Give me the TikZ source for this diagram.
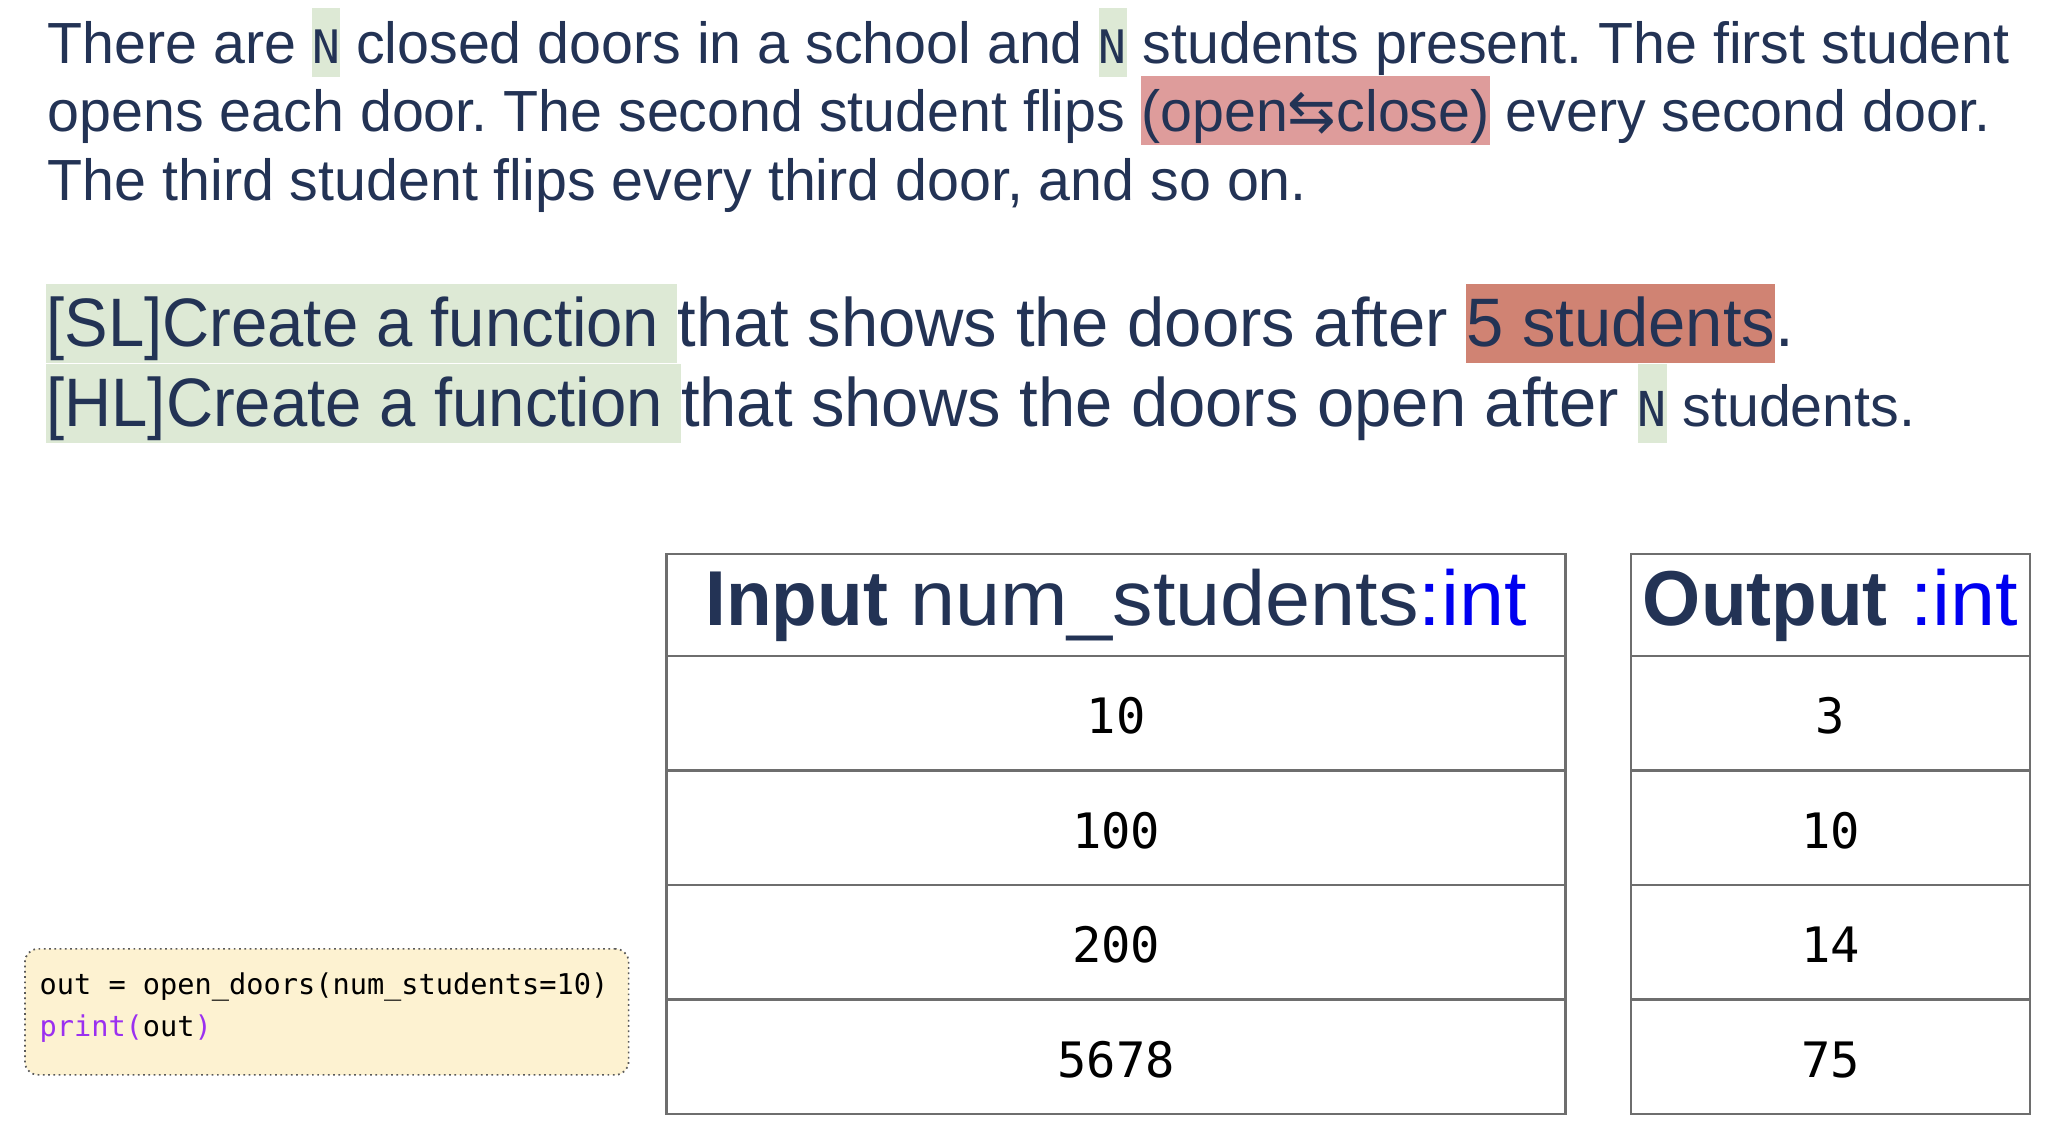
\documentclass[tikz,border=0pt]{standalone}
\usepackage{fontspec}
\setmainfont{Liberation Sans}
\setmonofont{DejaVu Sans Mono}
\newfontfamily\arrowfont{DejaVu Sans}
\newfontfamily\smallfam{Liberation Sans}[FakeStretch=0.988]
\newfontfamily\bigfam{Liberation Sans}[FakeStretch=0.976]
\newfontfamily\bigtagfam{Liberation Sans}[FakeStretch=0.951]
\newfontfamily\hdreg{Liberation Sans}[FakeStretch=1.04]
\newfontfamily\hdbold{Liberation Sans}[FakeStretch=0.96]
\definecolor{ink}{HTML}{233355}
\definecolor{hlgreen}{HTML}{DDE9D5}
\definecolor{hlpink}{HTML}{DE9C9B}
\definecolor{hlred}{HTML}{D08373}
\definecolor{codebg}{HTML}{FDF2D1}
\definecolor{codepurple}{HTML}{9B30F0}
\definecolor{typeblue}{HTML}{0000F0}
\definecolor{gridgray}{HTML}{6E6E6E}
\newcommand\hlA[2]{{\setlength\fboxsep{0pt}\colorbox{#1}{\rule[-10pt]{0pt}{52pt}#2}}}
\newcommand\hlB[2]{{\setlength\fboxsep{0pt}\colorbox{#1}{\rule[-12.5pt]{0pt}{60pt}#2}}}
\newcommand\monoN[1]{{\fontsize{#1}{#1}\ttfamily N}}
\tikzset{
  txt/.style={anchor=base west, inner sep=0pt, text=ink},
  small/.style={font=\fontsize{44}{52}\smallfam\frenchspacing},
  big/.style={font=\fontsize{52}{60}\bigfam\frenchspacing},
  cell/.style={draw=gridgray, line width=2pt, inner sep=0pt, text height=31pt, text depth=0pt, font=\fontsize{37}{37}\ttfamily},
  headcell/.style={draw=gridgray, line width=2pt, inner sep=0pt, text=ink, font=\fontsize{59}{59}\hdreg},
  codeline/.style={anchor=base west, inner sep=0pt, font=\fontsize{21.7}{21.7}\ttfamily}
}
\begin{document}
\begin{tikzpicture}[x=1pt,y=-1pt]
\useasboundingbox (0,0) rectangle (1560,862.6);
% paragraph 1
\node[txt, small] (p1) at (36,48) {There are \hlA{hlgreen}{\monoN{35}} closed doors in a school and \hlA{hlgreen}{\monoN{35}} students present. The first student};
\node[txt, small] (p2) at (36,99.8) {opens each door. The second student flips \hlA{hlpink}{(open{\arrowfont ⇆}close)} every second door.};
\node[txt, small] (p3) at (36,152.2) {The third student flips every third door, and so on.};
% task lines
\node[txt, big] (sl) at (35,262.8) {\hlB{hlgreen}{\bigtagfam [SL]Create a function }that shows the doors after \hlB{hlred}{5 students}.};
\node[txt, big] (hl) at (35,323.4) {\hlB{hlgreen}{\bigtagfam [HL]Create a function }that shows the doors open after \hlB{hlgreen}{\monoN{36.5}}{\fontsize{44}{52}\smallfam\ students.}};
% input table
\node[headcell, minimum width=681.4pt, minimum height=77.3pt] (ih) at (846,458.65) {{\hdbold\bfseries Input} num\_students{\color{typeblue}:int}};
\node[cell, minimum width=681.4pt, minimum height=86.8pt] (i1) at (846,540.7) {10};
\node[cell, minimum width=681.4pt, minimum height=86.8pt] (i2) at (846,627.5) {100};
\node[cell, minimum width=681.4pt, minimum height=86.8pt] (i3) at (846,714.3) {200};
\node[cell, minimum width=681.4pt, minimum height=86.8pt] (i4) at (846,801.1) {5678};
% output table
\node[headcell, minimum width=302.4pt, minimum height=77.3pt] (oh) at (1387.6,458.65) {{\hdbold\bfseries Output} {\color{typeblue}:int}};
\node[cell, minimum width=302.4pt, minimum height=86.8pt] (o1) at (1387.6,540.7) {3};
\node[cell, minimum width=302.4pt, minimum height=86.8pt] (o2) at (1387.6,627.5) {10};
\node[cell, minimum width=302.4pt, minimum height=86.8pt] (o3) at (1387.6,714.3) {14};
\node[cell, minimum width=302.4pt, minimum height=86.8pt] (o4) at (1387.6,801.1) {75};
% code box
\node[draw=black!65, fill=codebg, rounded corners=10pt, line width=1.3pt, dash pattern=on 1.3pt off 2.7pt, minimum width=457.6pt, minimum height=95.5pt, inner sep=0pt] (code) at (247.7,767) {};
\node[codeline] (c1) at (29.8,754) {out = open\_doors(num\_students=10)};
\node[codeline] (c2) at (29.8,785.8) {{\color{codepurple}print(}out{\color{codepurple})}};
\end{tikzpicture}
\end{document}
